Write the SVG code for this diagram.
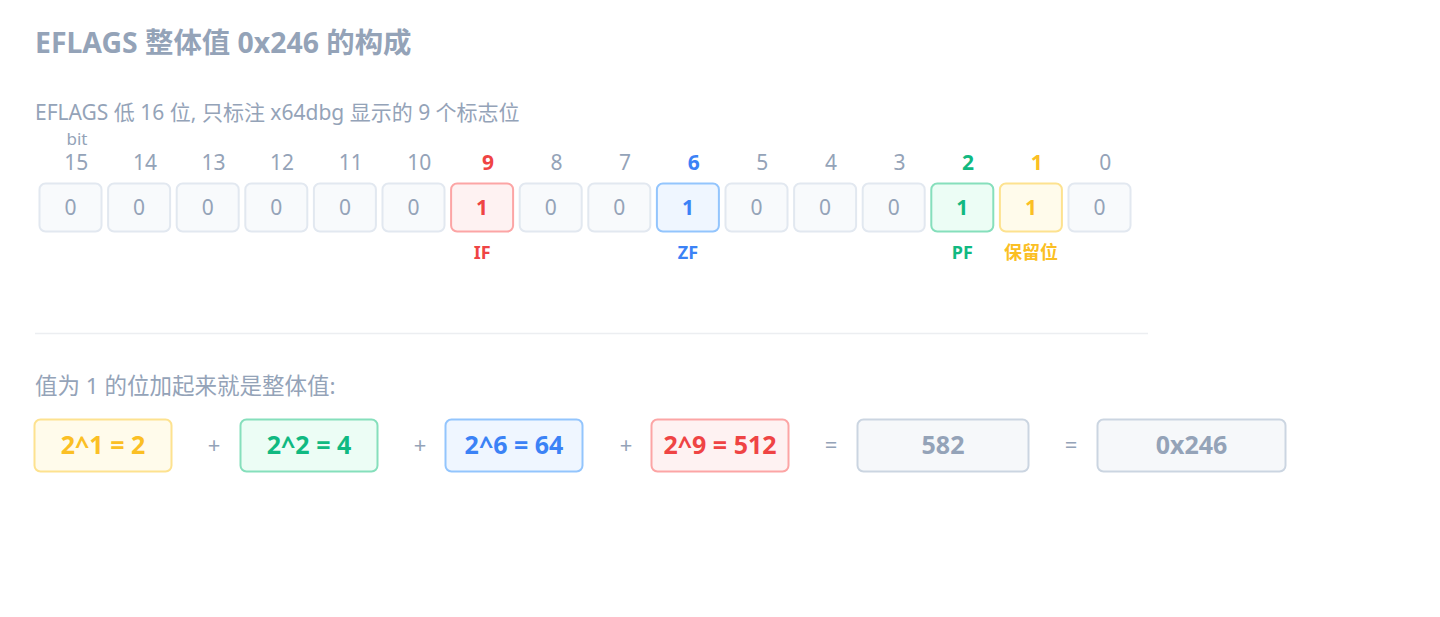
<svg xmlns="http://www.w3.org/2000/svg" width="1440" height="617" viewBox="0 0 1440 617">
<style>
text{font-family:"Noto Sans","Noto Sans CJK SC",sans-serif;fill:#94a3b8}
.title{font-size:28.4px;font-weight:700}
.sub{font-size:21px}
.cap{font-size:22.5px}
.num{font-size:21px;text-anchor:middle}
.bitv{font-size:21px;text-anchor:middle}
.b{font-weight:700}
.lab{font-size:18px;font-weight:700;text-anchor:middle}
.cell{fill:#f8fafc;stroke:#e2e8f0;stroke-width:2}
.red{fill:#fef2f2;stroke:#fca5a5;stroke-width:2}
.blue{fill:#eff6ff;stroke:#93c5fd;stroke-width:2}
.green{fill:#ecfdf5;stroke:#86dfbc;stroke-width:2}
.yel{fill:#fffbeb;stroke:#fde28f;stroke-width:2}
.gray{fill:#f6f8fa;stroke:#cbd5e1;stroke-width:2}
.tr{fill:#ef4444}.tb{fill:#3b82f6}.tg{fill:#10b981}.ty{fill:#fbbf24}
.term{font-size:25px;font-weight:700;text-anchor:middle}
.op{font-size:22px;text-anchor:middle}
</style>
<rect width="1440" height="617" fill="#ffffff"/>
<g id="header">
<text class="title" x="35" y="53">EFLAGS 整体值 0x246 的构成</text>
<text class="sub" x="35" y="120">EFLAGS 低 16 位, 只标注 x64dbg 显示的 9 个标志位</text>
<text x="77" y="145" style="font-size:17px" text-anchor="middle">bit</text>
</g>
<g id="bit-numbers">
<text class="num" x="76.3" y="170">15</text>
<text class="num" x="144.9" y="170">14</text>
<text class="num" x="213.5" y="170">13</text>
<text class="num" x="282.1" y="170">12</text>
<text class="num" x="350.7" y="170">11</text>
<text class="num" x="419.3" y="170">10</text>
<text class="num b tr" x="487.9" y="170">9</text>
<text class="num" x="556.5" y="170">8</text>
<text class="num" x="625.1" y="170">7</text>
<text class="num b tb" x="693.7" y="170">6</text>
<text class="num" x="762.3" y="170">5</text>
<text class="num" x="830.9" y="170">4</text>
<text class="num" x="899.5" y="170">3</text>
<text class="num b tg" x="968.1" y="170">2</text>
<text class="num b ty" x="1036.7" y="170">1</text>
<text class="num" x="1105.3" y="170">0</text>
</g>
<g id="bit15"><rect class="cell" x="39.5" y="183.5" width="62" height="48" rx="6"/><text class="bitv" x="70.5" y="215">0</text></g>
<g id="bit14"><rect class="cell" x="108.1" y="183.5" width="62" height="48" rx="6"/><text class="bitv" x="139.1" y="215">0</text></g>
<g id="bit13"><rect class="cell" x="176.7" y="183.5" width="62" height="48" rx="6"/><text class="bitv" x="207.7" y="215">0</text></g>
<g id="bit12"><rect class="cell" x="245.3" y="183.5" width="62" height="48" rx="6"/><text class="bitv" x="276.3" y="215">0</text></g>
<g id="bit11"><rect class="cell" x="313.9" y="183.5" width="62" height="48" rx="6"/><text class="bitv" x="344.9" y="215">0</text></g>
<g id="bit10"><rect class="cell" x="382.5" y="183.5" width="62" height="48" rx="6"/><text class="bitv" x="413.5" y="215">0</text></g>
<g id="bit9"><rect class="red" x="451.1" y="183.5" width="62" height="48" rx="6"/><text class="bitv b tr" x="482.1" y="215">1</text><text class="lab tr" x="482.1" y="259">IF</text></g>
<g id="bit8"><rect class="cell" x="519.7" y="183.5" width="62" height="48" rx="6"/><text class="bitv" x="550.7" y="215">0</text></g>
<g id="bit7"><rect class="cell" x="588.3" y="183.5" width="62" height="48" rx="6"/><text class="bitv" x="619.3" y="215">0</text></g>
<g id="bit6"><rect class="blue" x="656.9" y="183.5" width="62" height="48" rx="6"/><text class="bitv b tb" x="687.9" y="215">1</text><text class="lab tb" x="687.9" y="259">ZF</text></g>
<g id="bit5"><rect class="cell" x="725.5" y="183.5" width="62" height="48" rx="6"/><text class="bitv" x="756.5" y="215">0</text></g>
<g id="bit4"><rect class="cell" x="794.1" y="183.5" width="62" height="48" rx="6"/><text class="bitv" x="825.1" y="215">0</text></g>
<g id="bit3"><rect class="cell" x="862.7" y="183.5" width="62" height="48" rx="6"/><text class="bitv" x="893.7" y="215">0</text></g>
<g id="bit2"><rect class="green" x="931.3" y="183.5" width="62" height="48" rx="6"/><text class="bitv b tg" x="962.3" y="215">1</text><text class="lab tg" x="962.3" y="259">PF</text></g>
<g id="bit1"><rect class="yel" x="999.9" y="183.5" width="62" height="48" rx="6"/><text class="bitv b ty" x="1030.9" y="215">1</text><text class="lab ty" x="1030.9" y="259">保留位</text></g>
<g id="bit0"><rect class="cell" x="1068.5" y="183.5" width="62" height="48" rx="6"/><text class="bitv" x="1099.5" y="215">0</text></g>
<g id="divider"><line x1="35" y1="333.5" x2="1148" y2="333.5" stroke="#eceef1" stroke-width="1.5"/></g>
<g id="sum-caption"><text class="cap" x="35" y="394">值为 1 的位加起来就是整体值:</text></g>
<g id="term-2-1"><rect class="yel" x="34.5" y="419.5" width="137" height="52" rx="6"/><text class="term ty" x="103" y="454">2^1 = 2</text></g>
<g id="term-2-2"><rect class="green" x="240.5" y="419.5" width="137" height="52" rx="6"/><text class="term tg" x="309" y="454">2^2 = 4</text></g>
<g id="term-2-6"><rect class="blue" x="445.5" y="419.5" width="137" height="52" rx="6"/><text class="term tb" x="514" y="454">2^6 = 64</text></g>
<g id="term-2-9"><rect class="red" x="651.5" y="419.5" width="137" height="52" rx="6"/><text class="term tr" x="720" y="454">2^9 = 512</text></g>
<g id="result-dec"><rect class="gray" x="857.5" y="419.5" width="171" height="52" rx="6"/><text class="term" x="943" y="454">582</text></g>
<g id="result-hex"><rect class="gray" x="1097.5" y="419.5" width="188" height="52" rx="6"/><text class="term" x="1191.5" y="454">0x246</text></g>
<g id="operators">
<text class="op" x="214" y="453">+</text>
<text class="op" x="420" y="453">+</text>
<text class="op" x="626" y="453">+</text>
<text class="op" x="831" y="453">=</text>
<text class="op" x="1071" y="453">=</text>
</g>
</svg>
